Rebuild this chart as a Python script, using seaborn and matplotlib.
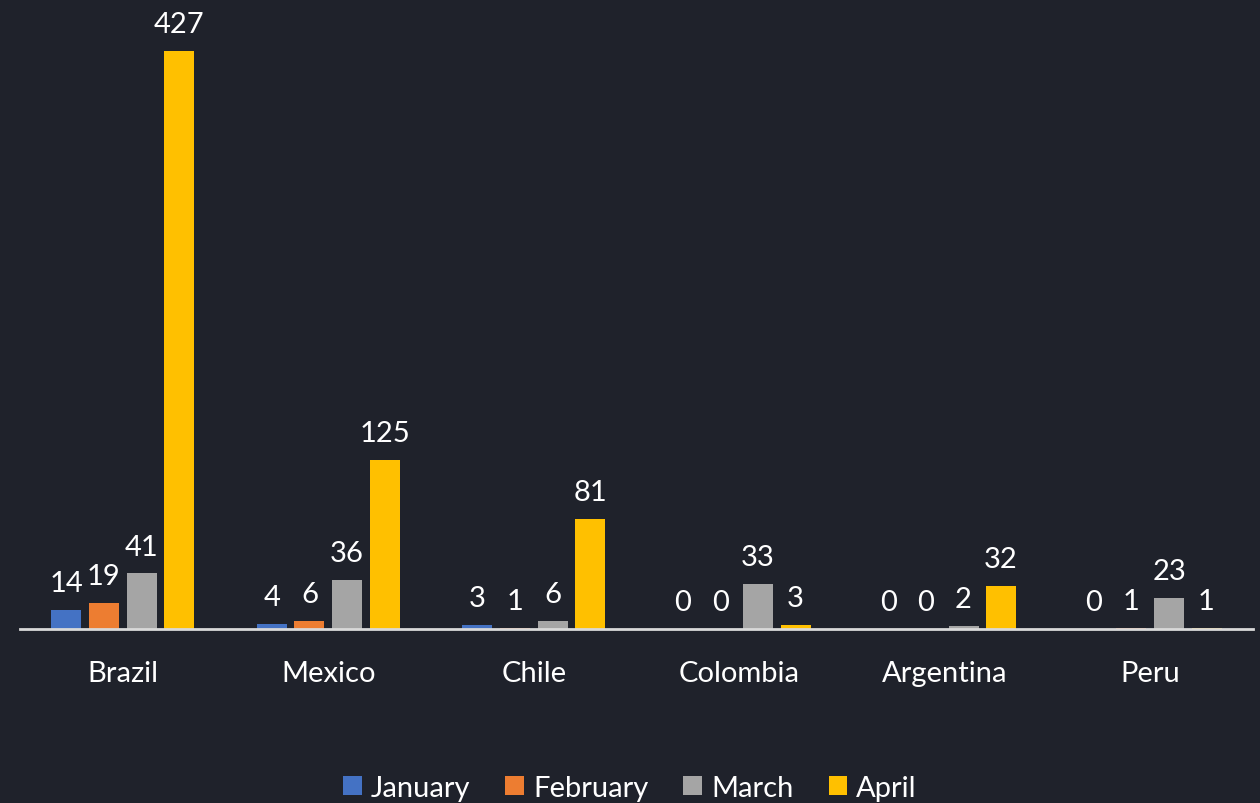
import matplotlib
matplotlib.use("Agg")
import matplotlib.pyplot as plt
import pandas as pd
import seaborn as sns

countries = ["Brazil", "Mexico", "Chile", "Colombia", "Argentina", "Peru"]
months = ["January", "February", "March", "April"]
january = [14, 4, 3, 0, 0, 0]
february = [19, 6, 1, 0, 0, 1]
march = [41, 36, 6, 33, 2, 23]
april = [427, 125, 81, 3, 32, 1]

bg = "#1F222B"
palette = ["#4472C4", "#ED7D31", "#A5A5A5", "#FFC000"]

df = pd.DataFrame({
    "country": countries * 4,
    "month": [m for m in months for _ in countries],
    "cases": january + february + march + april,
})

sns.set_style("dark")
plt.rcParams["font.family"] = ["Lato", "DejaVu Sans"]

fig = plt.figure(figsize=(12.6, 8.04), dpi=100, facecolor=bg)
ax = fig.add_axes([20 / 1260, 1 - 630 / 804, 1233 / 1260, 630 / 804])
ax.set_facecolor(bg)

sns.barplot(data=df, x="country", y="cases", hue="month", palette=palette,
            width=0.73, gap=0.2, saturation=1, linewidth=0, edgecolor="none",
            ax=ax, legend=True)

for c in ax.containers:
    ax.bar_label(c, padding=10, color="white", fontsize=21)

ax.set_xlim(-0.5, 5.5)
ax.set_ylim(0, 465.4)
ax.set_xlabel("")
ax.set_ylabel("")
ax.set_yticks([])
ax.tick_params(axis="x", length=0, pad=22, labelsize=21, colors="white")
for s in ["top", "right", "left"]:
    ax.spines[s].set_visible(False)
ax.spines["bottom"].set_color("#D9D9D9")
ax.spines["bottom"].set_linewidth(2)
ax.grid(False)

handles, labels = ax.get_legend_handles_labels()
ax.legend_.remove()
fig.legend(handles, labels, loc="lower center", bbox_to_anchor=(0.5, -0.03),
           ncol=4, frameon=False, fontsize=21, labelcolor="white",
           handlelength=0.65, handleheight=0.65, handletextpad=0.3,
           columnspacing=1.2)

fig.savefig("out.png", dpi=100, facecolor=bg)
